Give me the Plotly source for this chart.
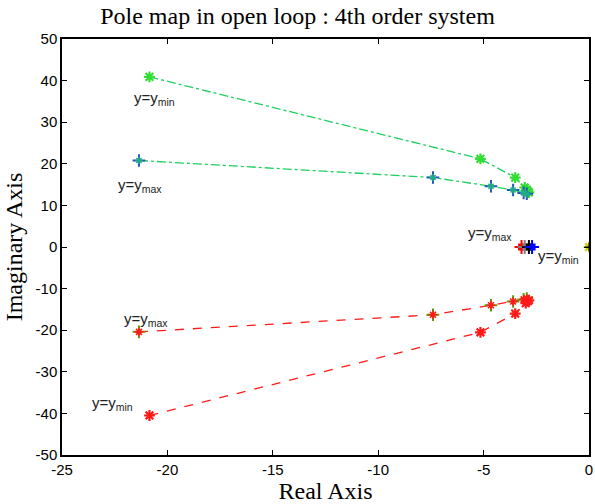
import plotly.graph_objects as go

# Pole trajectories (real, imaginary)
up_min_re = [-20.85, -5.15, -3.5, -3.05, -2.95, -2.9, -2.85]
up_min_im = [40.9, 21.2, 16.7, 14.3, 13.8, 13.4, 13.1]
up_max_re = [-21.35, -7.4, -4.65, -3.6, -3.1, -2.95]
up_max_im = [20.8, 16.7, 14.6, 13.7, 13.0, 12.8]
lo_max_re = [-21.35, -7.4, -4.65, -3.6, -3.1, -2.95]
lo_max_im = [-20.4, -16.3, -14.0, -13.1, -12.6, -12.4]
lo_min_re = [-20.85, -5.15, -3.5, -3.0, -2.9, -2.85]
lo_min_im = [-40.5, -20.5, -16.0, -13.5, -13.0, -12.8]
real_re = [-3.2, -3.05, -2.85, -2.7]
real_im = [0, 0, 0, 0]
real_colors = ["red", "gray", "black", "blue"]
origin_re = [0]
origin_im = [0]

# tick labels
x_tickvals = [-25, -20, -15, -10, -5, 0]
x_ticktext = ["-25", "-20", "-15", "-10", "-5", "0"]
y_tickvals = [-50, -40, -30, -20, -10, 0, 10, 20, 30, 40, 50]
y_ticktext = ["-50", "-40", "-30", "-20", "-10", "0", "10", "20", "30", "40", "50"]

fig = go.Figure()
green = "#1fcf5f"
red = "#ff1a1a"

def line(x, y, color, dash):
    fig.add_trace(go.Scatter(x=x, y=y, mode="lines", hoverinfo="skip",
                             line=dict(color=color, width=1.3, dash=dash)))

def marks(x, y, symbol, color, size, width):
    fig.add_trace(go.Scatter(x=x, y=y, mode="markers",
                             marker=dict(symbol=symbol, size=size, color=color,
                                         line=dict(width=width))))

line(up_min_re, up_min_im, green, "dashdot")
line(up_max_re, up_max_im, green, "dashdot")
line(lo_max_re, lo_max_im, red, "dash")
line(lo_min_re, lo_min_im, red, "dash")

marks(up_min_re, up_min_im, "asterisk-open", "#33dd33", 9, 2.2)
marks(up_max_re, up_max_im, "cross-thin-open", "#2255bb", 9, 2)
marks(up_max_re, up_max_im, "asterisk-open", "#22aa88", 6, 1.5)
marks(lo_max_re, lo_max_im, "cross-thin-open", "#669900", 9, 2)
marks(lo_max_re, lo_max_im, "asterisk-open", red, 7, 1.6)
marks(lo_min_re, lo_min_im, "asterisk-open", red, 9, 2.2)
fig.add_trace(go.Scatter(x=real_re, y=real_im, mode="markers",
                         marker=dict(symbol="square", size=7, color=real_colors)))
marks(real_re, real_im, "cross-thin-open", real_colors, 10, 2)
marks(origin_re, origin_im, "asterisk-open", "#cccc00", 9, 2)
marks(origin_re, origin_im, "cross-thin-open", "black", 6, 1)

ann_font = dict(family="Liberation Sans, Arial, sans-serif", size=15, color="#222")
labels = [
    (-20.6, 35.6, "y=y<sub>min</sub>"),
    (-21.3, 14.7, "y=y<sub>max</sub>"),
    (-21.0, -17.5, "y=y<sub>max</sub>"),
    (-22.6, -37.7, "y=y<sub>min</sub>"),
    (-4.7, 3.2, "y=y<sub>max</sub>"),
    (-1.45, -2.3, "y=y<sub>min</sub>"),
]
for x, y, t in labels:
    fig.add_annotation(x=x, y=y, text=t, showarrow=False, font=ann_font)

axis_common = dict(showgrid=False, zeroline=False, showline=True, linecolor="black",
                   linewidth=1.5, mirror="ticks", ticks="inside", ticklen=5,
                   tickcolor="black", automargin=False,
                   tickfont=dict(family="Liberation Sans, Arial, sans-serif",
                                 size=15, color="black"))
fig.update_xaxes(range=[-25, 0], tickmode="array", tickvals=x_tickvals, ticktext=x_ticktext,
                 title=dict(text="Real Axis", font=dict(family="Liberation Serif, Times New Roman, serif",
                                                        size=24, color="black"), standoff=0),
                 **axis_common)
fig.update_yaxes(range=[-50, 50], tickmode="array", tickvals=y_tickvals, ticktext=y_ticktext,
                 title=dict(text="Imaginary Axis", font=dict(family="Liberation Serif, Times New Roman, serif",
                                                             size=24, color="black"), standoff=6),
                 **axis_common)

fig.update_layout(
    width=595, height=504,
    margin=dict(l=62, r=6, t=39, b=49),
    paper_bgcolor="white", plot_bgcolor="white",
    showlegend=False,
    title=dict(text="Pole map in open loop : 4th order system", x=0.5, xanchor="center",
               yref="container", y=0.985, yanchor="top",
               font=dict(family="Liberation Serif, Times New Roman, serif", size=24, color="black")),
)

fig.write_html("out.html", config={"displayModeBar": False},
               post_script="document.body.style.margin='0';")
